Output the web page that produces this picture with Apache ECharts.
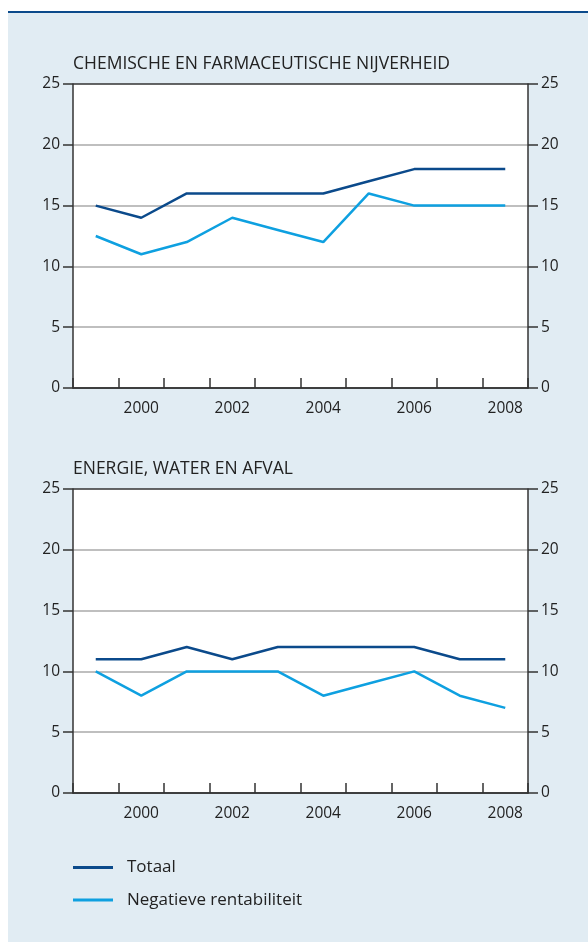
<!DOCTYPE html>
<html>
<head>
<meta charset="utf-8">
<script src="https://cdn.jsdelivr.net/npm/echarts@6/dist/echarts.min.js"></script>
<style>
  html, body { margin: 0; padding: 0; background: #fff; }
  #panel { position: absolute; left: 8px; top: 11px; width: 580px; height: 929px;
           background: #e1ecf3; border-top: 2px solid #0b4a8b; }
  #chart_main { position: absolute; left: 0; top: 0; width: 588px; height: 942px; }
</style>
</head>
<body>
<div id="panel"></div>
<div id="chart_main"></div>
<script type="text/javascript">
var years = ['1999', '2000', '2001', '2002', '2003', '2004', '2005', '2006', '2007', '2008'];
var chemie_totaal = [15, 14, 16, 16, 16, 16, 17, 18, 18, 18];
var chemie_negatief = [12.5, 11, 12, 14, 13, 12, 16, 15, 15, 15];
var energie_totaal = [11, 11, 12, 11, 12, 12, 12, 12, 11, 11];
var energie_negatief = [10, 8, 10, 10, 10, 8, 9, 10, 8, 7];
var titles = ['CHEMISCHE EN FARMACEUTISCHE NIJVERHEID', 'ENERGIE, WATER EN AFVAL'];
var series_names = ['Totaal', 'Negatieve rentabiliteit'];

var font = 'Open Sans';
var dark = '#0b4a8b', light = '#0ea0e0', axis = '#333';

function xAxis(i) {
    return {
        type: 'category', gridIndex: i, data: years, boundaryGap: true,
        axisLine: {lineStyle: {color: axis, width: 1.5}},
        axisTick: {show: true, inside: true, length: 10, interval: 0, lineStyle: {color: axis, width: 1.5}},
        axisLabel: {
            interval: function (idx) { return idx % 2 === 1; },
            color: '#222', fontFamily: font, fontSize: 15.5, margin: 13
        },
        splitLine: {show: false},
        z: 5
    };
}
function yAxis(i, pos) {
    return {
        type: 'value', gridIndex: i, position: pos, min: 0, max: 25, interval: 5,
        axisLine: {show: true, onZero: false, lineStyle: {color: axis, width: 1.5}},
        axisTick: {show: true, length: 10, lineStyle: {color: axis, width: 1.5}},
        axisLabel: {color: '#222', fontFamily: font, fontSize: 15.5, margin: 13},
        splitLine: {show: pos === 'left', lineStyle: {color: ['#333', '#aaa', '#aaa', '#aaa', '#aaa', '#333'], width: 1.5}}
    };
}
function line(name, data, color, i) {
    return {
        name: name, type: 'line', xAxisIndex: i, yAxisIndex: i * 2, data: data,
        symbol: 'none', lineStyle: {color: color, width: 2.5}, itemStyle: {color: color}
    };
}

var myChart = echarts.init(document.getElementById('chart_main'));
var option = {
    animation: false,
    backgroundColor: 'transparent',
    title: [
        {text: titles[0], left: 68, top: 50, textStyle: {fontFamily: font, fontSize: 17.5, fontWeight: 'normal', color: '#222'}},
        {text: titles[1], left: 68, top: 455, textStyle: {fontFamily: font, fontSize: 17.5, fontWeight: 'normal', color: '#222'}}
    ],
    grid: [
        {left: 73, right: 60, top: 84, height: 304, show: true, backgroundColor: '#fff', borderWidth: 0},
        {left: 73, right: 60, top: 489, height: 304, show: true, backgroundColor: '#fff', borderWidth: 0}
    ],
    legend: {
        orient: 'vertical', left: 68, top: 854, itemWidth: 40, itemHeight: 3, itemGap: 15.5,
        icon: 'rect', data: series_names,
        textStyle: {fontFamily: font, fontSize: 17, color: '#222', padding: [0, 0, 0, 9]}
    },
    xAxis: [xAxis(0), xAxis(1)],
    yAxis: [yAxis(0, 'left'), yAxis(0, 'right'), yAxis(1, 'left'), yAxis(1, 'right')],
    series: [
        line(series_names[0], chemie_totaal, dark, 0),
        line(series_names[1], chemie_negatief, light, 0),
        line(series_names[0], energie_totaal, dark, 1),
        line(series_names[1], energie_negatief, light, 1)
    ]
};
myChart.setOption(option);
</script>
</body>
</html>
